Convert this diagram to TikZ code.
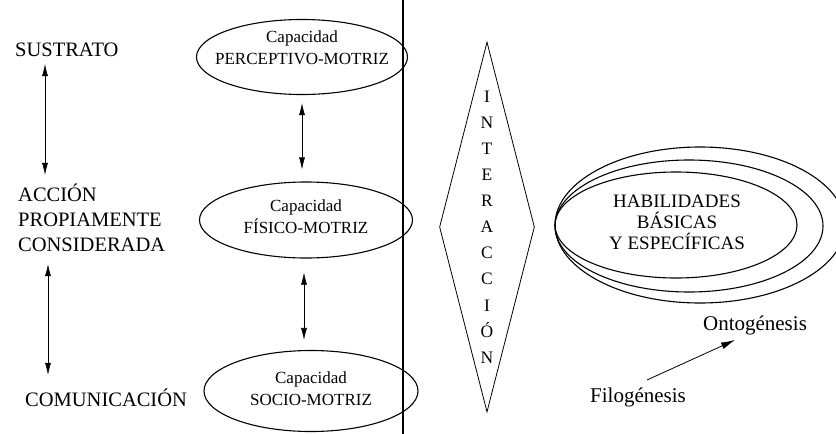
\documentclass[tikz,border=0pt]{standalone}
\usepackage{fontspec}
\setmainfont{Liberation Serif}
\usetikzlibrary{arrows.meta,shapes.geometric}
\begin{document}
\begin{tikzpicture}[x=1pt,y=-1pt,
  lbl/.style={inner sep=0pt,font=\fontsize{20.5}{25}\selectfont,align=left,anchor=west},
  capbox/.style={draw,ellipse,line width=1.1pt,inner sep=0pt},
  captext/.style={inner sep=0pt,align=center,font=\fontsize{17}{24}\selectfont},
  dbl/.style={line width=0.6pt,{Latex[length=12pt,width=6pt]}-{Latex[length=12pt,width=6pt]}},
  loop/.style={line width=1.1pt},
]
\useasboundingbox (0,0) rectangle (836,434);
\clip (0,0) rectangle (836,434);

% left column: levels
\node[lbl] (sus) at (15,50) {SUSTRATO};
\node[lbl] (acc) at (18,218) {ACCIÓN\\PROPIAMENTE\\CONSIDERADA};
\node[lbl] (com) at (25,398) {COMUNICACIÓN};
\draw[dbl,shorten <=7pt,shorten >=9pt] ([xshift=30]sus.south west) -- ([xshift=27]acc.north west);
\draw[dbl,shorten <=12pt,shorten >=14pt] ([xshift=30]acc.south west) -- ([xshift=23]com.north west);

% capacities
\node[capbox,minimum width=211,minimum height=75] (per) at (302,57) {};
\node[capbox,minimum width=213,minimum height=76] (fis) at (306,220) {};
\node[capbox,minimum width=214,minimum height=81] (soc) at (311,391) {};
\node[captext] (pert) at ([yshift=9]per.center) {Capacidad\\[-2pt]PERCEPTIVO-MOTRIZ};
\node[captext] (fist) at ([yshift=3]fis.center) {Capacidad\\[-2pt]FÍSICO-MOTRIZ};
\node[captext] (soct) at ([yshift=2]soc.center) {Capacidad\\[-2pt]SOCIO-MOTRIZ};
\draw[dbl,shorten <=8pt,shorten >=12pt] (per.south) -- (per.south |- fis.north);
\draw[dbl,shorten <=14pt,shorten >=10pt] ([xshift=-2]fis.south) -- ([xshift=-2]fis.south |- soc.north);

% dividing rule
\coordinate (rt) at (403,0);
\coordinate (rb) at (403,434);
\draw[line width=1.8pt] (rt) -- (rb);

% interaction diamond
\node[draw,diamond,line width=0.8pt,minimum width=95,minimum height=370,inner sep=0pt] (dia) at (487,227) {};
\node[inner sep=0pt,align=center,font=\fontsize{17.5}{26.1}\selectfont] (int) at (dia.center)
  {I\\N\\T\\E\\R\\A\\C\\C\\I\\Ó\\N};

% abilities and spiral loops
\node[inner sep=0pt,align=center,font=\fontsize{19}{21}\selectfont] (hab) at (677,222)
  {HABILIDADES\\BÁSICAS\\Y ESPECÍFICAS};
\draw[loop] (676,225) ellipse [x radius=121,y radius=53];
\draw[loop] (689,226) ellipse [x radius=134,y radius=66];
\draw[loop] (700,225) ellipse [x radius=145,y radius=78];

\node[inner sep=0pt,font=\fontsize{21}{22}\selectfont] (onto) at (755,325) {Ontogénesis};
\node[inner sep=0pt,font=\fontsize{21}{22}\selectfont] (filo) at (638,397) {Filogénesis};
\draw[line width=0.8pt,-{Latex[length=14pt,width=7pt]}] ([xshift=9,yshift=17]filo.center) -- ([xshift=-20,yshift=-15]onto.center);
\end{tikzpicture}
\end{document}
